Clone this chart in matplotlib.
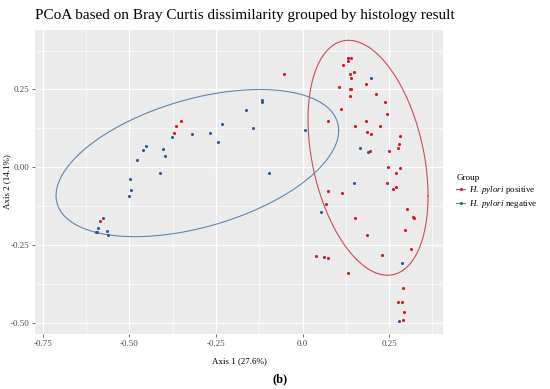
import numpy as np
import matplotlib
matplotlib.use("Agg")
import matplotlib.pyplot as plt
from matplotlib.lines import Line2D

plt.rcParams['font.family'] = ['Liberation Serif', 'DejaVu Serif']
plt.rcParams['mathtext.fontset'] = 'custom'
plt.rcParams['mathtext.rm'] = 'Liberation Serif'
plt.rcParams['mathtext.it'] = 'Liberation Serif:italic'

# PCoA coordinates
pos_x = [-0.054, -0.352, -0.366, -0.372, -0.585,
         0.131, 0.141, 0.132, 0.118, 0.148, 0.138, 0.141, 0.184, 0.106, 0.138,
         0.140, 0.213, 0.136, 0.237, 0.110, 0.244, 0.074, 0.184, 0.153, 0.223,
         0.187, 0.197, 0.281, 0.279, 0.275, 0.196, 0.249, 0.246, 0.283, 0.269,
         0.245, 0.269, 0.262, 0.073, 0.114, 0.067, 0.303, 0.318, 0.322, 0.152,
         0.295, 0.186, 0.313, 0.230, 0.040, 0.062, 0.073, 0.131, 0.290, 0.275,
         0.288, 0.293, 0.291]
pos_y = [0.300, 0.148, 0.131, 0.111, -0.172,
         0.352, 0.352, 0.340, 0.328, 0.306, 0.299, 0.286, 0.266, 0.257, 0.252,
         0.250, 0.235, 0.228, 0.210, 0.186, 0.170, 0.149, 0.148, 0.133, 0.133,
         0.114, 0.107, 0.101, 0.076, 0.063, 0.052, 0.051, 0.001, -0.002, -0.017,
         -0.050, -0.064, -0.070, -0.078, -0.084, -0.118, -0.133, -0.159, -0.162, -0.164,
         -0.202, -0.218, -0.264, -0.282, -0.286, -0.288, -0.292, -0.341, -0.389, -0.432,
         -0.434, -0.464, -0.491]
neg_x = [-0.118, -0.118, -0.162, -0.234, -0.144, -0.319, -0.266, -0.243, 0.008,
         -0.378, -0.453, -0.460, -0.402, -0.397, -0.477, -0.412, -0.097, -0.499,
         -0.495, -0.502, -0.577, -0.592, -0.596, -0.593, -0.566, -0.561,
         0.199, 0.165, 0.189, 0.148, 0.054, 0.287, 0.279]
neg_y = [0.217, 0.208, 0.184, 0.138, 0.126, 0.107, 0.110, 0.080, 0.119,
         0.096, 0.068, 0.055, 0.059, 0.037, 0.022, -0.017, -0.019, -0.038,
         -0.074, -0.094, -0.164, -0.196, -0.209, -0.209, -0.204, -0.219,
         0.286, 0.061, 0.048, -0.051, -0.143, -0.309, -0.494]

labels = [r'$\mathit{H.\ pylori}$ positive', r'$\mathit{H.\ pylori}$ negative']
point_colors = ['#D7191C', '#2B5C95']
ellipse_colors = ['#D0495A', '#5E86B0']
ellipse_level = 0.76


def cov_trob(xy, nu=5, maxit=25, tol=0.01):
    # t-distribution robust covariance, like MASS::cov.trob
    n, p = xy.shape
    loc = xy.mean(axis=0)
    w = np.ones(n)
    for _ in range(maxit):
        w0 = w
        X = xy - loc
        S = (X * (w / w.sum())[:, None]).T @ X
        Q = np.einsum('ij,jk,ik->i', X, np.linalg.inv(S), X)
        w = (nu + p) / (nu + Q)
        loc = (w[:, None] * xy).sum(axis=0) / w.sum()
        if np.all(np.abs(w - w0) < tol):
            break
    X = xy - loc
    cov = (np.sqrt(w)[:, None] * X).T @ (np.sqrt(w)[:, None] * X) / n
    return loc, cov


def ellipse_path(xs, ys, level, segments=200):
    xy = np.column_stack([xs, ys])
    loc, cov = cov_trob(xy)
    m = len(xs) - 1
    fq = (m / 2) * ((1 - level) ** (-2 / m) - 1)
    radius = np.sqrt(2 * fq)
    chol = np.linalg.cholesky(cov).T
    t = np.linspace(0, 2 * np.pi, segments)
    circ = np.column_stack([np.cos(t), np.sin(t)])
    e = loc + radius * circ @ chol
    return e[:, 0], e[:, 1]


fig = plt.figure(figsize=(5.5, 3.89), dpi=100)
ax = fig.add_axes([35 / 550, 1 - 334 / 389, 408 / 550, 304 / 389])
ax.set_facecolor('#EBEBEB')
for s in ax.spines.values():
    s.set_visible(False)

ax.set_xticks([-0.75, -0.5, -0.25, 0.0, 0.25])
ax.set_xticklabels(['-0.75', '-0.50', '-0.25', '0.0', '0.25'])
ax.set_yticks([-0.5, -0.25, 0.0, 0.25])
ax.set_yticklabels(['-0.50', '-0.25', '0.00', '0.25'])
ax.set_xticks(np.arange(-0.625, 0.4, 0.25), minor=True)
ax.set_yticks(np.arange(-0.375, 0.45, 0.25), minor=True)
ax.grid(which='major', color='white', linewidth=0.9)
ax.grid(which='minor', color='white', linewidth=0.45)
ax.set_axisbelow(True)
ax.tick_params(which='major', length=2, width=0.6, color='#555555',
               labelsize=6.5, labelcolor='#4D4D4D', pad=2)
ax.tick_params(which='minor', length=0)

data = [(pos_x, pos_y), (neg_x, neg_y)]
for (xs, ys), ec in zip(data, ellipse_colors):
    ex, ey = ellipse_path(xs, ys, ellipse_level)
    ax.plot(ex, ey, color=ec, linewidth=0.8)
for (xs, ys), pc in zip(data, point_colors):
    ax.scatter(xs, ys, s=5, color=pc, linewidths=0, zorder=3)

ax.set_xlim(-0.773, 0.406)
ax.set_ylim(-0.536, 0.441)

ax.set_xlabel('Axis 1 (27.6%)', fontsize=6.5)
ax.set_ylabel('Axis 2 (14.1%)', fontsize=6.5)
ax.xaxis.set_label_coords(0.5, -0.076)
ax.yaxis.set_label_coords(-0.058, 0.5)

fig.text(35 / 550, 1 - 15 / 389,
         'PCoA based on Bray Curtis dissimilarity grouped by histology result',
         fontsize=11, va='center', ha='left')
fig.text(0.51, 1 - 379 / 389, '(b)', fontsize=9, fontweight='bold',
         ha='center', va='center')

handles = [Line2D([0], [0], color=ec, marker='o', markersize=2.2,
                  markerfacecolor=pc, markeredgewidth=0, linewidth=0.8)
           for pc, ec in zip(point_colors, ellipse_colors)]
leg = fig.legend(handles, labels, title='Group', loc='center left',
                 bbox_to_anchor=(450 / 550, 1 - 192 / 389), frameon=False,
                 fontsize=6.5, title_fontsize=6.5, handlelength=1.0,
                 handletextpad=0.4, labelspacing=0.2, borderpad=0.2,
                 alignment='left')

fig.savefig('out.png', dpi=100)
